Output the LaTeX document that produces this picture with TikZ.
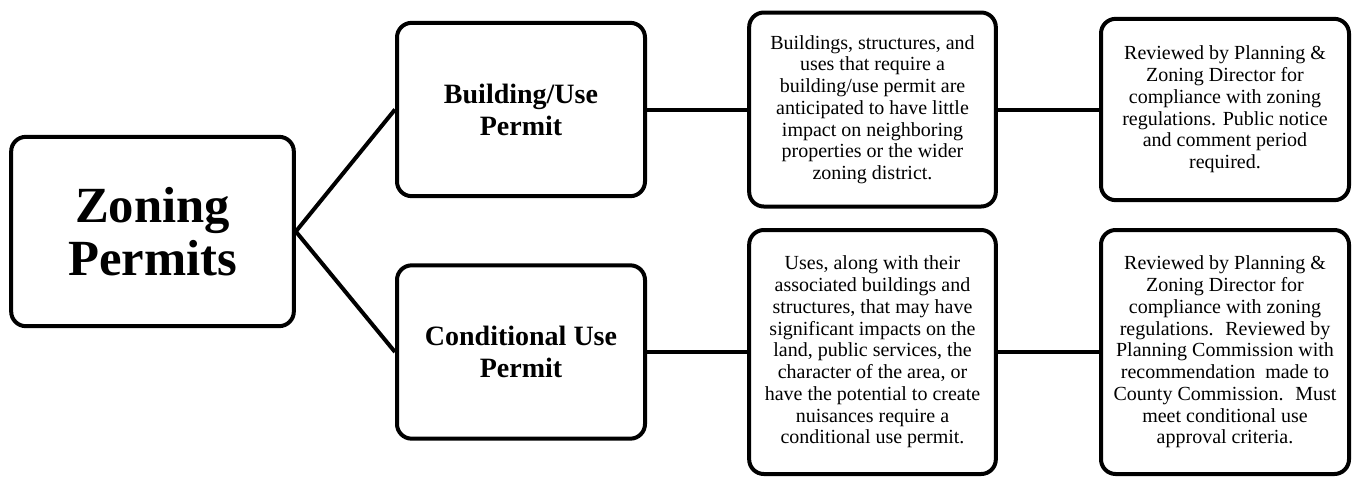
\documentclass[tikz,border=0pt]{standalone}
\usepackage{fontspec}
\setmainfont{Liberation Serif}
\usetikzlibrary{positioning}

\begin{document}
\begin{tikzpicture}[
  x=0.75pt, y=-0.75pt,
  box/.style={draw, rounded corners=11pt, line width=3pt, align=center, inner sep=2pt},
  head/.style={box, minimum width=186pt, minimum height=130pt, font=\bfseries\fontsize{21}{24}\selectfont},
  info/.style={box, minimum width=185pt, font=\fontsize{15}{16.3}\selectfont},
  link/.style={line width=3pt}]

  \useasboundingbox (0,0) rectangle (1354,476);

  \node[box, minimum width=212pt, minimum height=142pt,
        font=\bfseries\fontsize{38}{40}\selectfont] (zoning) at (152.5,231.5) {Zoning\\Permits};

  \node[head] (building) at (521,109.5) {Building/Use\\Permit};
  \node[head] (conditional) at (521,352) {Conditional Use\\Permit};

  \node[info, minimum height=145.5pt] (buildingdesc) at (872.5,109.5)
    {Buildings, structures, and\\uses that require a\\building/use permit are\\anticipated to have little\\impact on neighboring\\properties or the wider\\zoning district.};
  \node[info, minimum height=183pt] (conditionaldesc) at (872.5,352)
    {Uses, along with their\\associated buildings and\\structures, that may have\\significant impacts on the\\land, public services, the\\character of the area, or\\have the potential to create\\nuisances require a\\conditional use permit.};

  \node[info, minimum width=186pt, minimum height=136pt] (buildingreview) at (1225,109.5)
    {Reviewed by Planning \&\\Zoning Director for\\compliance with zoning\\regulations. Public notice\\and comment period\\required.};
  \node[info, minimum width=186pt, minimum height=183pt] (conditionalreview) at (1225,352)
    {Reviewed by Planning \&\\Zoning Director for\\compliance with zoning\\regulations.~ Reviewed by\\Planning Commission with\\recommendation~ made to\\County Commission.~ Must\\meet conditional use\\approval criteria.};

  \draw[link] (zoning.east) -- (building.west);
  \draw[link] (zoning.east) -- (conditional.west);
  \draw[link] (building) -- (buildingdesc);
  \draw[link] (buildingdesc) -- (buildingreview);
  \draw[link] (conditional) -- (conditionaldesc);
  \draw[link] (conditionaldesc) -- (conditionalreview);
\end{tikzpicture}
\end{document}
